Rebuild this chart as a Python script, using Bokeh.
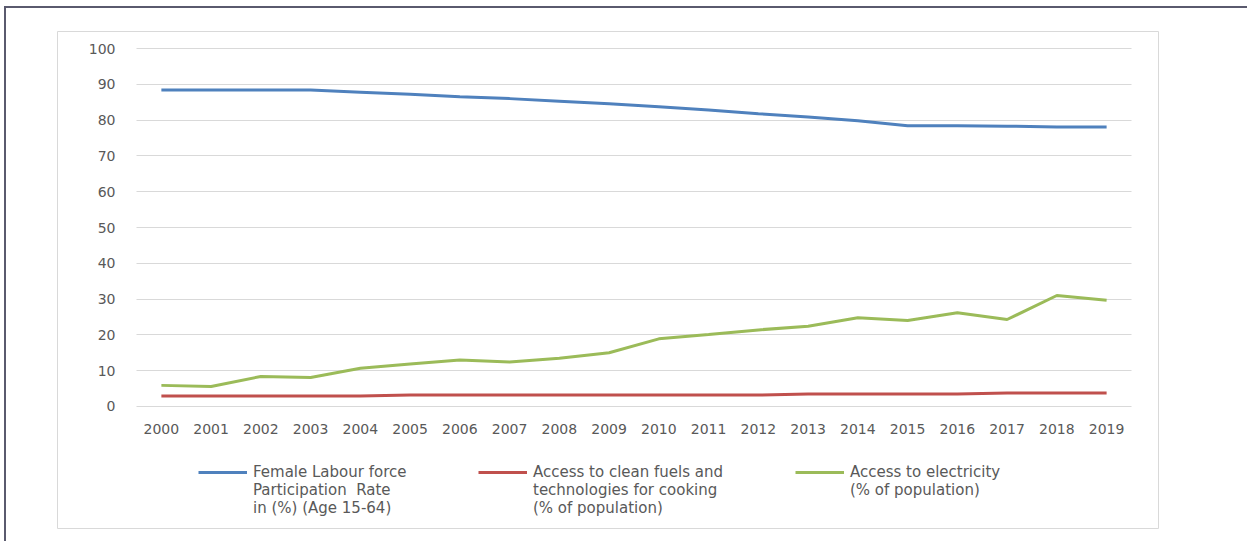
from bokeh.plotting import figure
from bokeh.models import Range1d, Legend, LegendItem, FixedTicker
from bokeh.embed import file_html
from bokeh.resources import INLINE

years = [2000, 2001, 2002, 2003, 2004, 2005, 2006, 2007, 2008, 2009,
         2010, 2011, 2012, 2013, 2014, 2015, 2016, 2017, 2018, 2019]
female_lfpr = [88.4, 88.4, 88.4, 88.4, 87.8, 87.2, 86.5, 86.0, 85.3, 84.6,
               83.7, 82.8, 81.8, 80.9, 79.8, 78.4, 78.4, 78.3, 78.1, 78.1]
clean_fuels = [2.9, 2.9, 2.9, 2.9, 2.9, 3.2, 3.2, 3.2, 3.2, 3.2,
               3.2, 3.2, 3.2, 3.5, 3.5, 3.5, 3.5, 3.8, 3.8, 3.8]
electricity = [5.9, 5.6, 8.4, 8.1, 10.7, 11.9, 13.0, 12.4, 13.5, 15.0,
               18.9, 20.1, 21.4, 22.4, 24.8, 24.0, 26.2, 24.3, 31.0, 29.7]
y_ticks = [0, 10, 20, 30, 40, 50, 60, 70, 80, 90, 100]
label_lines = [["Female Labour force", "Participation  Rate", "in (%) (Age 15-64)"],
               ["Access to clean fuels and", "technologies for cooking", "(% of population)"],
               ["Access to electricity", "(% of population)"]]
colors = ["#4f81bd", "#c0504d", "#9bbb59"]
legend_x = [141, 421, 738]

p = figure(width=1241, height=533,
           x_range=Range1d(1997.912, 2020.043), y_range=Range1d(-34.08, 104.75),
           output_backend="svg", toolbar_location=None,
           min_border_left=51, min_border_right=89, min_border_top=23, min_border_bottom=13)
p.margin = (8, 0, 0, 6)
p.styles = {"outline": "2px solid #5a5a6e"}
p.outline_line_color = "#d9d9d9"
p.outline_line_width = 1
p.background_fill_color = "white"
p.border_fill_color = "white"

p.xgrid.grid_line_color = None
p.ygrid.grid_line_color = "#d9d9d9"
p.ygrid.grid_line_width = 1
p.ygrid.cross_bounds = (1999.5, 2019.5)
p.yaxis.ticker = FixedTicker(ticks=y_ticks)
p.xaxis.ticker = FixedTicker(ticks=years)
p.yaxis.fixed_location = 1999.5
p.xaxis.fixed_location = 0

for ax in (p.xaxis[0], p.yaxis[0]):
    ax.axis_line_color = None
    ax.major_tick_line_color = None
    ax.minor_tick_line_color = None
    ax.major_tick_out = 0
    ax.major_tick_in = 0
    ax.major_label_text_font = "DejaVu Sans"
    ax.major_label_text_font_size = "14px"
    ax.major_label_text_color = "#595959"
p.yaxis.major_label_standoff = 21
p.xaxis.major_label_standoff = 18

renderers = []
for series, c in zip([female_lfpr, clean_fuels, electricity], colors):
    renderers.append(p.line(years, series, line_color=c, line_width=3))

# one legend per entry; blank lines keep the swatch level with the first text line
for lines, r, lx in zip(label_lines, renderers, legend_x):
    padded = [" ", " "] + lines + [" "] * (3 - len(lines))
    lg = Legend(items=[LegendItem(label="\n".join(padded), renderers=[r])],
                location=(lx, 11), orientation="horizontal",
                label_text_font="DejaVu Sans", label_text_font_size="15px",
                label_text_color="#595959", label_text_line_height=1.17,
                glyph_width=49, glyph_height=10, label_standoff=6,
                padding=0, margin=0, border_line_color=None, background_fill_alpha=0)
    p.add_layout(lg)

open("out.html", "w").write(file_html(p, INLINE))
